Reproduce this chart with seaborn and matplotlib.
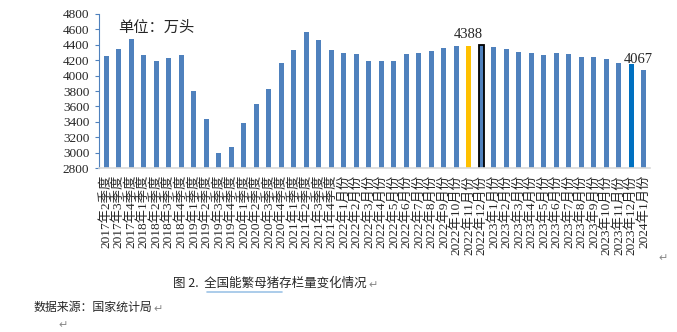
import matplotlib
matplotlib.use("Agg")
import matplotlib.pyplot as plt
import seaborn as sns
import pandas as pd

sns.set_theme(style="white")
plt.rcParams['font.family'] = ['Liberation Serif', 'Noto Sans CJK SC', 'DejaVu Sans']

quarters = ["2017年2季度", "2017年3季度", "2017年4季度",
            "2018年1季度", "2018年2季度", "2018年3季度", "2018年4季度",
            "2019年1季度", "2019年2季度", "2019年3季度", "2019年4季度",
            "2020年1季度", "2020年2季度", "2020年3季度", "2020年4季度",
            "2021年1季度", "2021年2季度", "2021年3季度", "2021年4季度"]
months = ["2022年1月份", "2022年2月份", "2022年3月份", "2022年4月份", "2022年5月份",
          "2022年6月份", "2022年7月份", "2022年8月份", "2022年9月份", "2022年10月份",
          "2022年11月份", "2022年12月份",
          "2023年1月份", "2023年2月份", "2023年3月份", "2023年4月份", "2023年5月份",
          "2023年6月份", "2023年7月份", "2023年8月份", "2023年9月份", "2023年10月份",
          "2023年11月份", "2023年12月份", "2024年1月份"]
categories = quarters + months

quarter_values = [4260, 4350, 4470, 4270, 4185, 4225, 4265, 3800, 3435, 2995, 3075,
                  3380, 3630, 3820, 4165, 4330, 4565, 4460, 4330]
month_values = [4295, 4275, 4185, 4185, 4190, 4285, 4300, 4325, 4362, 4380,
                4388, 4400, 4367, 4343, 4305, 4290, 4265, 4300, 4275, 4245,
                4245, 4215, 4160, 4150, 4067]
values = quarter_values + month_values

annotated = {"2022年11月份": "4388", "2024年1月份": "4067"}

base_color = "#4F81BD"
colors = [base_color] * len(categories)
colors[categories.index("2022年11月份")] = "#FFC000"
colors[categories.index("2023年12月份")] = "#0070C0"

df = pd.DataFrame({"cat": categories, "val": values})

fig = plt.figure(figsize=(6.77, 3.32), dpi=100)
ax = fig.add_axes([99/677, 1-168/332, (650-99)/677, (168-14)/332])

sns.barplot(data=df, x="cat", y="val", hue="cat", palette=colors, legend=False,
            width=0.4, ax=ax, saturation=1, linewidth=0)

# outline for 2022年12月份 bar
hl = categories.index("2022年12月份")
p = ax.patches[hl]
p.set_edgecolor("black")
p.set_linewidth(1.3)

ax.set_ylim(2800, 4800)
ax.set_xlim(-0.56, 43.5)
ax.set_yticks(range(2800, 4801, 200))
ax.set_yticklabels([str(v) for v in range(2800, 4801, 200)], fontsize=9.5,
                   family=['Liberation Serif'])
ax.tick_params(axis='y', which='major', length=3, width=0.8, color=base_color,
               direction='out', left=True, pad=4)
ax.tick_params(axis='x', length=0, pad=5)
ax.set_xticks(range(len(categories)))
ax.set_xticklabels(categories, rotation=90, fontsize=9.6,
                   family=['Liberation Serif', 'Noto Sans CJK SC'], va='top')
ax.set_xlabel("")
ax.set_ylabel("")
for s in ["top", "right"]:
    ax.spines[s].set_visible(False)
ax.spines["left"].set_color(base_color)
ax.spines["left"].set_linewidth(0.8)
ax.spines["bottom"].set_color("#D9D9D9")
ax.spines["bottom"].set_linewidth(1.2)
ax.grid(False)

# value labels
i1 = categories.index("2022年11月份")
ax.text(i1, values[i1] + 60, annotated["2022年11月份"], ha='center', va='bottom',
        fontsize=10.5, family=['Liberation Serif'])
i2 = categories.index("2024年1月份")
ax.text(i2 - 0.4, values[i2] + 60, annotated["2024年1月份"], ha='center', va='bottom',
        fontsize=10.5, family=['Liberation Serif'])

ax.text(118/677, 1-27/332, "单位：万头", transform=fig.transFigure, fontsize=11,
        family=['Noto Sans CJK SC'], va='center', ha='left')

fig.text(173/677, 1-283/332, "图 2.  全国能繁母猪存栏量变化情况", fontsize=9,
         family=['Noto Sans CJK SC', 'DejaVu Sans'], va='center', ha='left')
fig.text(368/677, 1-285/332, "↵", fontsize=8, color="#888888",
         family=['DejaVu Sans'], va='center', ha='left')
fig.text(34/677, 1-307/332, "数据来源：国家统计局", fontsize=8.6,
         family=['Noto Sans CJK SC', 'DejaVu Sans'], va='center', ha='left')
fig.text(153/677, 1-309/332, "↵", fontsize=8, color="#888888",
         family=['DejaVu Sans'], va='center', ha='left')
fig.text(58/677, 1-325/332, "↵", fontsize=8, color="#888888",
         family=['DejaVu Sans'], va='center', ha='left')
fig.text(658/677, 1-258/332, "↵", fontsize=8, color="#888888",
         family=['DejaVu Sans'], va='center', ha='left')
# light blue squiggle underline under 全国能繁母猪
fig.add_artist(plt.Line2D([207/677, 282/677], [1-292/332, 1-292/332],
                          color="#9DC3E6", linewidth=1.2, transform=fig.transFigure))

fig.savefig("out.png", dpi=100)
